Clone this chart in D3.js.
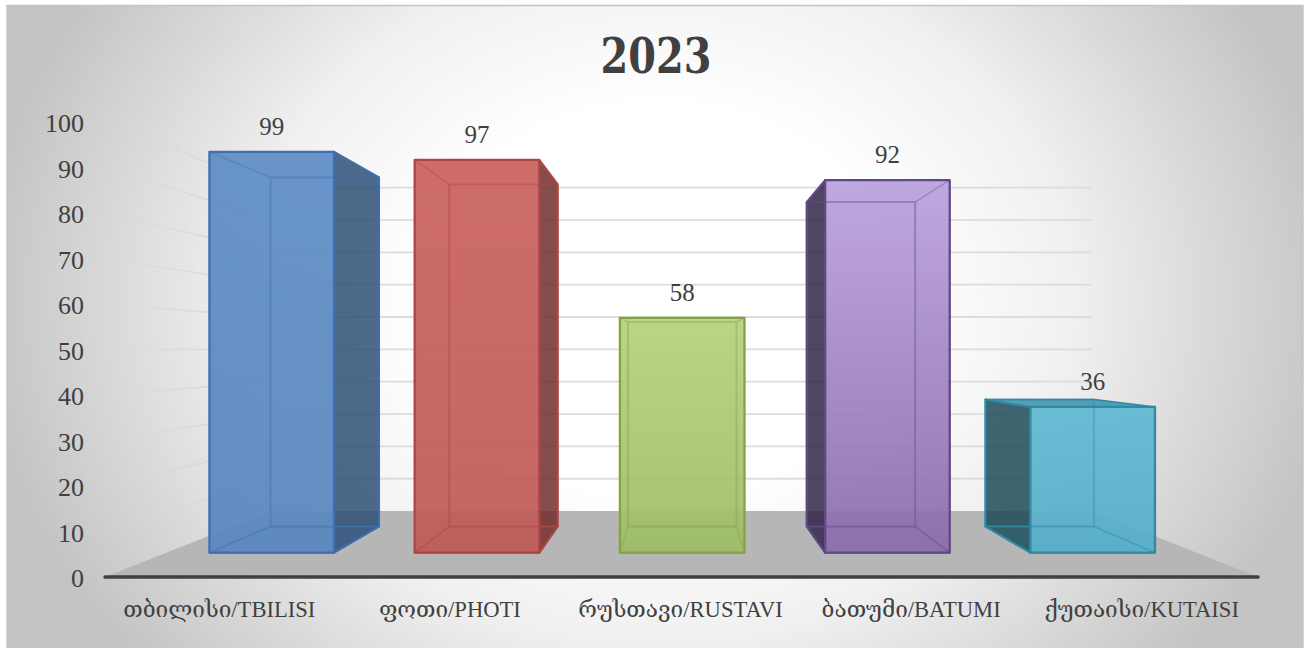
<!DOCTYPE html>
<html><head><meta charset="utf-8">
<script src="https://cdn.jsdelivr.net/npm/d3@7/dist/d3.min.js"></script>
<style>html,body{margin:0;padding:0;background:#fff;overflow:hidden}svg{display:block}
text{font-family:"Liberation Serif","DejaVu Serif",serif;fill:#404040}</style></head>
<body><svg id="c" width="1309" height="648"></svg>
<script>
const titleText = "2023";
const categories = ["თბილისი/TBILISI","ფოთი/PHOTI","რუსთავი/RUSTAVI","ბათუმი/BATUMI","ქუთაისი/KUTAISI"];
const values = [99,97,58,92,36];
const tickValues = [0,10,20,30,40,50,60,70,80,90,100];
const edgeColors = ["#3f6fae","#ad4744","#83a347","#604a86","#2f8aa5"];
const sideColors = ["#2c4d75","#6e2c2a","#55702f","#2e2344","#1c4a56"];
const topFills = ["#5f8dc6","#ca625e","#b5d37c","#bba1de","#60b9d3"];
const bottomFills = ["#5a87bf","#bf5a57","#9ebd65","#8a6ca9","#55aec8"];

const svg = d3.select("#c");
const defs = svg.append("defs");
const bg = defs.append("radialGradient").attr("id","bg").attr("gradientUnits","userSpaceOnUse")
  .attr("cx",0).attr("cy",0).attr("r",1).attr("gradientTransform","translate(660,300) scale(680,560)");
[[.35,"#ffffff"],[.61,"#f0f0f0"],[.82,"#d8d8d8"],[1,"#c4c4c4"]].forEach(s=>
  bg.append("stop").attr("offset",s[0]).attr("stop-color",s[1]));
const wall = defs.append("linearGradient").attr("id","wall").attr("gradientUnits","userSpaceOnUse")
  .attr("x1",105).attr("x2",271).attr("y1",0).attr("y2",0);
wall.append("stop").attr("offset",0).attr("stop-color","#d8d8d8").attr("stop-opacity",.05);
wall.append("stop").attr("offset",.65).attr("stop-color","#d8d8d8").attr("stop-opacity",.9);
categories.forEach((c,i)=>{
  const g = defs.append("linearGradient").attr("id","bar"+i).attr("x1",0).attr("x2",0).attr("y1",0).attr("y2",1);
  g.append("stop").attr("offset",0).attr("stop-color",topFills[i]);
  g.append("stop").attr("offset",1).attr("stop-color",bottomFills[i]);
});

// front plane scales; depth s scales towards the vanishing point
const x = d3.scaleBand().domain(categories).range([105,1258]);
const y = d3.scaleLinear().domain([0,100]).range([577,122]);
const vx = 681.5, vy = 349;
const sBack = 0.711, sFront = 0.89, sRear = 0.775;
const project = (px,py,s) => [vx+(px-vx)*s, vy+(py-vy)*s];
const path = pts => "M"+pts.map(p=>p.join(",")).join("L")+"Z";

svg.append("rect").attr("x",7).attr("y",5).attr("width",1296).attr("height",643).attr("fill","url(#bg)");
svg.append("path").attr("d","M7,648V5.5H1303V648").attr("fill","none").attr("stroke","#c4c4c4").attr("stroke-width",1.5);

// floor
svg.append("path").attr("fill","#b6b6b6").attr("d",path([
  project(105,y(0),1),project(1258,y(0),1),project(1258,y(0),sBack),project(105,y(0),sBack)]));

// gridlines
tickValues.filter(v=>v>0).forEach(v=>{
  const a = project(105,y(v),1), b = project(105,y(v),sBack), c = project(1258,y(v),sBack);
  svg.append("path").attr("d",`M${a}L${b}`).attr("stroke","url(#wall)").attr("stroke-width",1.8).attr("fill","none");
  svg.append("path").attr("d",`M${b}L${c}`).attr("stroke","#dcdcdc").attr("stroke-width",1.8).attr("fill","none");
});

// bars
const barW = 140;
categories.forEach((cat,i)=>{
  const cx = x(cat)+x.bandwidth()/2, l = cx-barW/2, r = cx+barW/2, t = y(values[i]), b = y(0);
  const P = project;
  const fa=P(l,t,sFront), fb=P(r,t,sFront), fc=P(r,b,sFront), fd=P(l,b,sFront);
  const ra=P(l,t,sRear), rb=P(r,t,sRear), rc=P(r,b,sRear), rd=P(l,b,sRear);
  const g = svg.append("g").attr("stroke-linejoin","round").attr("transform","translate(0.7,0.8)");
  const face = (pts,fill,op,sw)=>g.append("path").attr("d",path(pts)).attr("fill",fill)
     .attr("fill-opacity",op).attr("stroke",edgeColors[i]).attr("stroke-width",sw);
  // outer side
  if (rb[0]>fb[0]+1) face([fb,rb,rc,fc],sideColors[i],.84,2);
  if (ra[0]<fa[0]-1) face([fa,ra,rd,fd],sideColors[i],.84,2);
  // floor and top of the box
  face([fd,fc,rc,rd],edgeColors[i],.1,1.5);
  if (ra[1]<fa[1]) face([fa,fb,rb,ra],edgeColors[i],.8,1.5);
  // front
  face([fa,fb,fc,fd],"url(#bar"+i+")",.93,2.3);
  // rear edges seen through the front
  g.append("path").attr("d",path([ra,rb,rc,rd])).attr("fill","none").attr("stroke",edgeColors[i]).attr("stroke-opacity",.4).attr("stroke-width",2);
  g.append("path").attr("d",`M${fa}L${ra}M${fb}L${rb}M${fc}L${rc}M${fd}L${rd}`).attr("fill","none").attr("stroke",edgeColors[i]).attr("stroke-opacity",.35).attr("stroke-width",1.6);
  svg.append("text").attr("x",(fa[0]+fb[0])/2+0.7).attr("y",fa[1]-16).attr("text-anchor","middle")
     .attr("font-size",25).text(values[i]);
});

// axis line
svg.append("line").attr("x1",105).attr("x2",1258).attr("y1",y(0)).attr("y2",y(0))
  .attr("stroke","#404040").attr("stroke-width",3.5).attr("stroke-linecap","round");

// axes
const ya = svg.append("g").attr("transform","translate(84,1.5)")
  .call(d3.axisLeft(y).tickValues(tickValues).tickSize(0).tickPadding(0));
ya.select(".domain").remove();
ya.selectAll("text").attr("font-size",26).attr("style","font-family:'Liberation Serif';fill:#404040");
const xa = svg.append("g").attr("transform","translate(-1,598.5)")
  .call(d3.axisBottom(x).tickSize(0).tickPadding(0));
xa.select(".domain").remove();
xa.selectAll("text").attr("font-size",22.6).attr("dy","0.8em").attr("style","font-family:'Liberation Serif','DejaVu Serif';fill:#404040");

svg.append("text").attr("transform","translate(656,73) scale(0.83,1)").attr("text-anchor","middle")
  .attr("font-size",48).attr("font-weight",700)
  .attr("style","font-family:'DejaVu Serif'").text(titleText);
</script></body></html>
